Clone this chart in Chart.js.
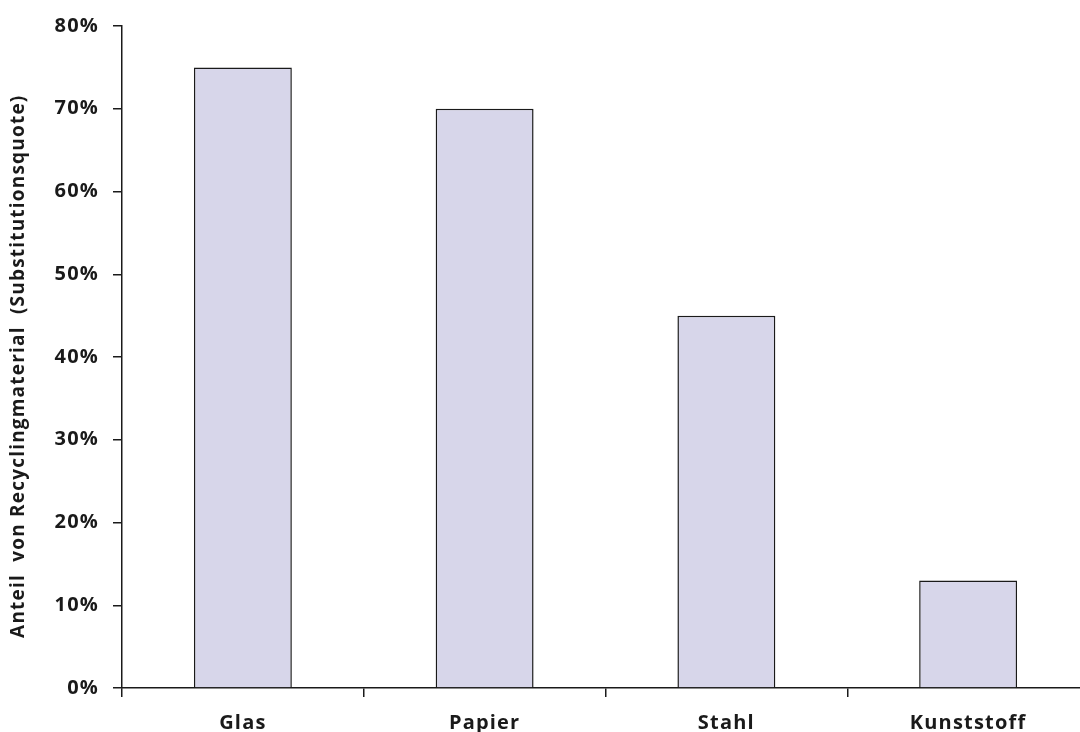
<!DOCTYPE html>
<html>
<head>
<meta charset="utf-8">
<script src="https://cdn.jsdelivr.net/npm/chart.js@4"></script>
<style>
  html, body { margin: 0; padding: 0; background: #fff; overflow: hidden; }
  #wrap { width: 1092px; height: 732px; position: relative; }
</style>
</head>
<body>
<div id="wrap"><canvas id="c"></canvas></div>
<script>
// Recycled-material share per packaging material
const categories = ['Glas', 'Papier', 'Stahl', 'Kunststoff'];
const recyclingShare = [75, 70, 45, 13];
const yTicks = [0, 10, 20, 30, 40, 50, 60, 70, 80];
const yTitle = 'Anteil  von Recyclingmaterial  (Substitutionsquote)   ';

const fontFamily = '"Open Sans", "DejaVu Sans", sans-serif';
const ink = '#1a1a1a';

// Slightly open letter spacing for all chart text
const spacedText = {
  id: 'spacedText',
  beforeDraw(chart) { chart.ctx.letterSpacing = '1.2px'; }
};

new Chart(document.getElementById('c'), {
  type: 'bar',
  data: {
    labels: categories,
    datasets: [{
      data: recyclingShare,
      backgroundColor: '#d7d6ea',
      borderColor: ink,
      borderWidth: 1.5,
      categoryPercentage: 1,
      barPercentage: 0.405
    }]
  },
  plugins: [spacedText],
  options: {
    responsive: true,
    maintainAspectRatio: false,
    animation: false,
    layout: { padding: { top: 25, right: 3, left: 0, bottom: 0 } },
    plugins: { legend: { display: false }, tooltip: { enabled: false } },
    scales: {
      x: {
        grid: { drawOnChartArea: false, drawTicks: true, tickLength: 9, color: ink, lineWidth: 1.5, offset: true },
        border: { color: ink, width: 1.5 },
        ticks: { color: ink, font: { family: fontFamily, size: 20, weight: 'bold' }, padding: 14 },
        afterFit: (s) => { s.height = 44; }
      },
      y: {
        min: 0, max: 80,
        afterBuildTicks: (s) => { s.ticks = yTicks.map(v => ({ value: v })); },
        grid: { drawOnChartArea: false, drawTicks: true, tickLength: 9, color: ink, lineWidth: 1.5 },
        border: { color: ink, width: 1.5 },
        ticks: {
          color: ink,
          font: { family: fontFamily, size: 20, weight: 'bold' },
          padding: 14,
          callback: (v) => v + '%'
        },
        title: {
          display: true,
          text: yTitle,
          color: ink,
          font: { family: fontFamily, size: 19, weight: 'bold' },
          padding: { top: 7, bottom: 8 }
        },
        afterFit: (s) => { s.width = 122; }
      }
    }
  }
});
</script>
</body>
</html>
